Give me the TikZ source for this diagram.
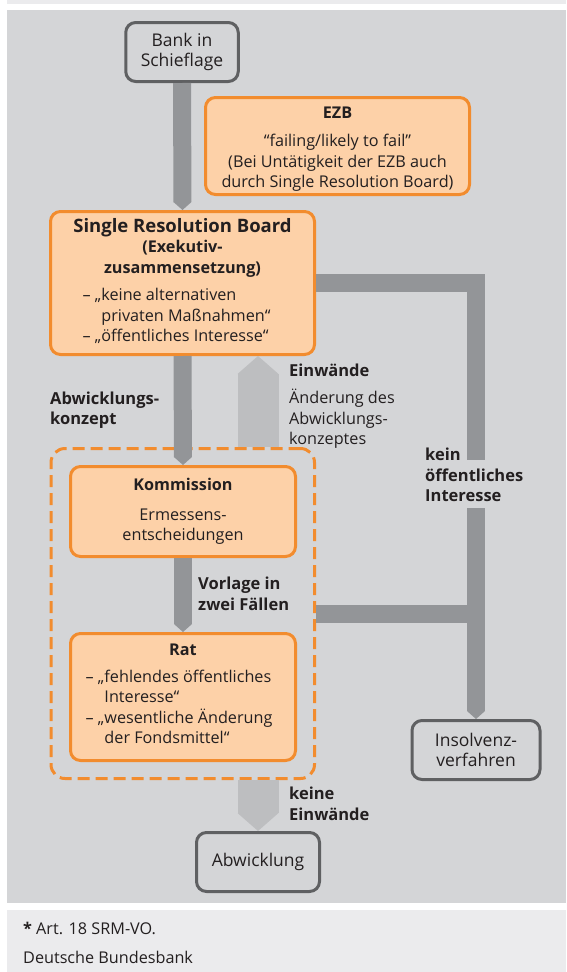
\documentclass[tikz,border=0pt]{standalone}
\usepackage{fontspec}
\setmainfont{Open Sans}
\usetikzlibrary{arrows.meta, positioning, calc}

\definecolor{panel}{HTML}{D4D5D7}
\definecolor{strip}{HTML}{EBEBED}
\definecolor{barDark}{HTML}{939598}
\definecolor{barLight}{HTML}{BDBEC0}
\definecolor{srmOrange}{HTML}{F28C2E}
\definecolor{srmPeach}{HTML}{FDD1A8}
\definecolor{boxGray}{HTML}{5F6062}
\definecolor{txt}{HTML}{231F20}

\begin{document}
\begin{tikzpicture}[x=1pt, y=-1pt,
    every node/.style={text=txt, font=\fontsize{16.2}{20.5}\selectfont},
    endbox/.style={draw=boxGray, line width=3pt, rounded corners=10pt, fill=panel, align=center,
      font=\fontsize{17.5}{20.5}\selectfont},
    stepcard/.style={draw=srmOrange, fill=srmPeach, line width=3pt, rounded corners=10pt, align=center},
    darkbar/.style={draw=barDark, line width=18pt, -{Triangle[length=8pt, width=18pt, line width=0pt]}},
    lightbar/.style={draw=barLight, line width=41pt, -{Triangle[length=18pt, width=41pt, line width=0pt]}},
    note/.style={anchor=west, inner sep=0pt, align=left},
    boldnote/.style={note, font=\fontsize{16.5}{20.5}\selectfont\bfseries}
  ]
  \useasboundingbox (0,0) rectangle (566,972);
  \fill[strip] (7,0) rectangle (566,4);
  \fill[panel] (7,9.5) rectangle (566,903);
  \fill[strip] (7,910) rectangle (566,972);

  % boxes
  \node[endbox, minimum width=112.5pt, minimum height=59pt] (bank) at (182,52) {Bank in\\Schieflage};
  \node[stepcard, minimum width=264pt, minimum height=97pt] (ezb) at (337.5,146) {};
  \node[align=center] (ezbtext) at ([yshift=-3pt]ezb.center)
    {\textbf{EZB}\\[8pt] “failing/likely to fail”\\ (Bei Untätigkeit der EZB auch\\ durch Single Resolution Board)};
  \node[stepcard, minimum width=264pt, minimum height=143pt] (srb) at (182.5,283)
    {{\fontsize{18.5}{20.5}\selectfont\bfseries Single Resolution Board}\\ \textbf{(Exekutiv-}\\ \textbf{zusammensetzung)}\\[8pt]
     \hspace*{-12pt}\begin{tabular}{@{}l@{\ }l@{}}
       – & „keine alternativen\\
         & \hphantom{„}privaten Maßnahmen“\\
       – & „öffentliches Interesse“
     \end{tabular}};
  \node[draw=srmOrange, line width=3pt, dash pattern=on 12pt off 6pt, rounded corners=14pt,
        minimum width=263.5pt, minimum height=330pt] (frame) at (182.75,613.5) {};
  \node[stepcard, minimum width=225pt, minimum height=90pt] (kom) at (183,511.5)
    {\textbf{Kommission}\\[9pt] Ermessens-\\entscheidungen};
  \node[stepcard, minimum width=225pt, minimum height=127pt] (rat) at (183,697)
    {\textbf{Rat}\\[11pt]
     \hspace*{-8pt}\begin{tabular}{@{}l@{\ }l@{}}
       – & „fehlendes öffentliches\\
         & \hphantom{„}Interesse“\\
       – & „wesentliche Änderung\\
         & \hphantom{„}der Fondsmittel“
     \end{tabular}};
  \node[endbox, minimum width=128pt, minimum height=59pt] (insolvenz) at (476,750) {Insolvenz-\\verfahren};
  \node[endbox, minimum width=123pt, minimum height=59pt] (abw) at (258,862) {Abwicklung};

  % connectors
  \coordinate (gaptop) at (476,460);
  \coordinate (gapbot) at (476,508);
  \draw[darkbar] (bank.south) -- (srb.north);
  \draw[darkbar, -] (srb.east) -| (gaptop);
  \draw[darkbar] (gapbot) -- (insolvenz.north);
  \draw[darkbar, -] (frame.east) -- (frame.east -| gapbot);
  \draw[darkbar] (srb.south) -- (kom.north);
  \draw[darkbar] (kom.south) -- (rat.north);
  \draw[lightbar] (frame.north -| abw.north) -- (srb.south -| abw.north);
  \draw[lightbar] (frame.south -| abw.north) -- (abw.north);

  % labels
  \node[boldnote] (concept) at (50,410) {Abwicklungs-\\konzept};
  \node[boldnote] (objection) at (289,370) {Einwände};
  \node[note] (change) at (289,419) {Änderung des\\Abwicklungs-\\konzeptes};
  \node[boldnote] (twocases) at (198,594) {Vorlage in\\zwei Fällen};
  \node[boldnote] (nopublic) at (425,475) {kein\\öffentliches\\Interesse};
  \node[boldnote] (noobjection) at (289,804) {keine\\Einwände};

  % footer
  \node[note] (source) at (23,928) {\textbf{*} Art. 18 SRM-VO.};
  \node[note] (bbk) at (23,957) {Deutsche Bundesbank};
\end{tikzpicture}
\end{document}
